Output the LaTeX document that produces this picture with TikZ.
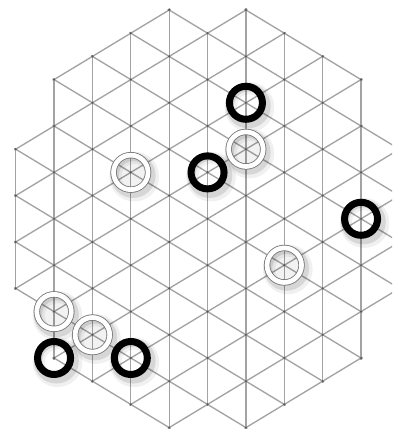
\documentclass[tikz,border=0pt]{standalone}
\begin{document}
\begin{tikzpicture}[
        x={(1cm,0cm)},
        y={(0cm,-0.6046cm)},
        gridline/.style={black!36, line width=1pt, shorten <=-1.2pt, shorten >=-1.2pt},
        blackstone/.style={circle, draw=black, line width=5.2pt, minimum size=0.86cm, inner sep=0pt},
        whitestone/.style={circle, draw=black!55, line width=0.6pt, double=white, double distance=3.5pt, fill=black, fill opacity=0.05, minimum size=0.9cm, inner sep=0pt},
        stoneshadow/.style={black, line width=6pt}
    ]
    \useasboundingbox (-0.409,-0.431) rectangle (9.808,18.147);
    \clip (-0.409,-0.431) rectangle (9.808,18.147);

    % vertical lines
    \foreach \i/\lo in {0/6,1/3,2/2,3/1,4/0,5/1,6/0,7/1,8/2,9/3,10/6}
        \draw[gridline] (\i,\lo) -- (\i,18-\lo);
    % slanted lines, the lower half mirrors the upper one
    \foreach \ia/\ja/\ib/\jb in {6/0/9/3,4/0/10/6,3/1/10/8,2/2/10/10,1/3/10/12,1/5/9/13,0/6/9/15,0/8/8/16,0/10/7/17,0/12/6/18,1/15/4/18} {
        \draw[gridline] (\ia,\ja) -- (\ib,\jb);
        \draw[gridline] (\ia,18-\ja) -- (\ib,18-\jb);
    }
    % points
    \foreach \i/\lo in {0/6,1/3,2/2,3/1,4/0,5/1,6/0,7/1,8/2,9/3,10/6} {
        \pgfmathtruncatemacro\hi{18-\lo}
        \pgfmathtruncatemacro\nx{\lo+2}
        \foreach \j in {\lo,\nx,...,\hi}
            \fill[black!65] (\i,\j) circle (0.9pt);
    }

    % shadows
    \foreach \i/\j in {6/4,5/7,9/9,1/15,3/15,6/6,3/7,7/11,1/13,2/14} {
        \draw[stoneshadow, opacity=0.06, line width=9pt] ([shift={(0.09cm,-0.11cm)}]\i,\j) circle (0.49cm);
        \draw[stoneshadow, opacity=0.11] ([shift={(0.06cm,-0.08cm)}]\i,\j) circle (0.48cm);
    }

    % stones
    \foreach \n/\i/\j in {1/6/4,2/5/7,3/9/9,4/1/15,5/3/15}
        \node[blackstone] (b\n) at (\i,\j) {};
    \foreach \n/\i/\j in {1/6/6,2/3/7,3/7/11,4/1/13,5/2/14}
        \node[whitestone] (w\n) at (\i,\j) {};
\end{tikzpicture}
\end{document}
